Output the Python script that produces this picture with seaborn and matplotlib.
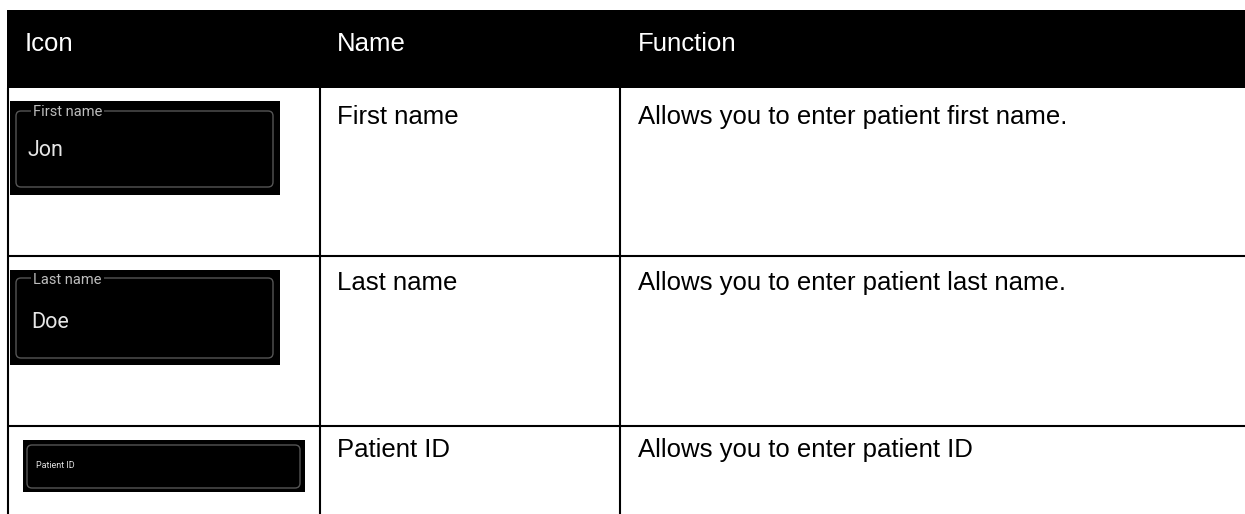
import matplotlib
matplotlib.use("Agg")
import matplotlib.pyplot as plt
from matplotlib.patches import Rectangle, FancyBboxPatch
import seaborn as sns

# Table content
columns = ["Icon", "Name", "Function"]
names = ["First name", "Last name", "Patient ID"]
functions = [
    "Allows you to enter patient first name.",
    "Allows you to enter patient last name.",
    "Allows you to enter patient ID",
]
field_labels = ["First name", "Last name", "Patient ID"]
field_values = ["Jon", "Doe", ""]

# Layout (pixels, figure is 1245 x 514)
W, H = 1245, 514
col_x = [8, 320, 620]
text_x = [25, 337, 638]
header_top, header_bottom = 10, 88
row_lines = [255.5, 426]
row_text_y = [117, 283, 450]

# icon boxes: outer black rect, inner rounded border, label pos, value pos
icons = [
    dict(outer=(10, 101, 270, 94), inner=(16, 111, 257, 76), label=(33, 112, 10.5), value=(28, 150)),
    dict(outer=(10, 270, 270, 95), inner=(16, 278, 257, 80), label=(33, 280, 10.5), value=(31, 323)),
    dict(outer=(23, 440, 282, 52), inner=(27, 445, 273, 43), label=(36, 466, 6.5), value=None),
]

sns.set_theme(style="white")
plt.rcParams['font.family'] = ['Liberation Sans', 'DejaVu Sans']

fig = plt.figure(figsize=(12.45, 5.14), dpi=100)
ax = fig.add_axes([0, 0, 1, 1])
ax.set_xlim(0, W)
ax.set_ylim(H, 0)
ax.axis('off')

fs = 18.5

# header band
ax.add_patch(Rectangle((7, header_top), W - 7, header_bottom - header_top, facecolor='black', edgecolor='none'))
for x, c in zip(text_x, columns):
    ax.text(x, 51, c, color='white', fontsize=fs, va='baseline', ha='left')

# grid lines
lw = 1.5
ax.plot([col_x[0], col_x[0]], [header_bottom, H], color='black', lw=lw, solid_capstyle='butt')
for x in col_x[1:]:
    ax.plot([x, x], [header_bottom, H], color='black', lw=lw, solid_capstyle='butt')
for y in row_lines:
    ax.plot([col_x[0], W], [y, y], color='black', lw=lw, solid_capstyle='butt')

# body text
for i in range(3):
    ax.text(text_x[1], row_text_y[i], names[i], fontsize=fs, va='center', ha='left', color='black')
    ax.text(text_x[2], row_text_y[i], functions[i], fontsize=fs, va='center', ha='left', color='black')

# icon mockups (text input fields)
for ic, lab, val in zip(icons, field_labels, field_values):
    ox, oy, ow, oh = ic['outer']
    ax.add_patch(Rectangle((ox, oy), ow, oh, facecolor='black', edgecolor='none'))
    ix, iy, iw, ih = ic['inner']
    ax.add_patch(FancyBboxPatch((ix, iy), iw, ih, boxstyle="round,pad=0,rounding_size=5",
                                facecolor='black', edgecolor='#555555', lw=1.0))
    lx, ly, lfs = ic['label']
    if ic['value'] is not None:
        ax.text(lx, ly, lab, family='Roboto', fontsize=lfs, color='#bdbdbd', va='center', ha='left',
                bbox=dict(facecolor='black', edgecolor='none', pad=1.5))
        vx, vy = ic['value']
        ax.text(vx, vy, val, family='Roboto', fontsize=15.5, color='#e6e6e6', va='center', ha='left')
    else:
        ax.text(lx, ly, lab, family='Roboto', fontsize=lfs, color='#e0e0e0', va='center', ha='left')

fig.savefig('out.png', dpi=100, facecolor='white')
